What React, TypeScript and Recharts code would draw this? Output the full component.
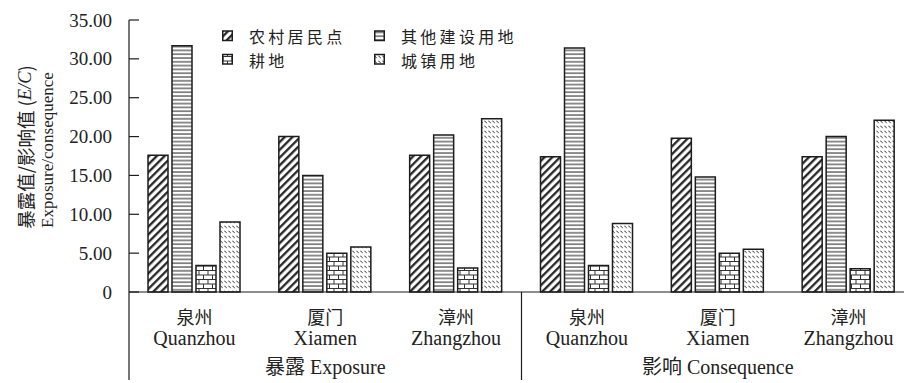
import React from 'react'
import { BarChart, Bar, XAxis, YAxis, Legend } from 'recharts'

// categories: 3 cities x 2 groups (exposure / consequence)
const categoryIds = ['qz-e', 'xm-e', 'zz-e', 'qz-c', 'xm-c', 'zz-c']
const cityZh = ['泉州', '厦门', '漳州', '泉州', '厦门', '漳州']
const cityEn = ['Quanzhou', 'Xiamen', 'Zhangzhou', 'Quanzhou', 'Xiamen', 'Zhangzhou']
const groupLabels = ['暴露 Exposure', '影响 Consequence']

// series values (E/C)
const rural = [17.6, 20.0, 17.6, 17.4, 19.8, 17.4]
const otherBuilt = [31.7, 15.0, 20.2, 31.4, 14.8, 20.0]
const farmland = [3.4, 5.0, 3.1, 3.4, 5.0, 3.0]
const urban = [9.0, 5.8, 22.3, 8.8, 5.5, 22.1]

const yTicks = [0, 5, 10, 15, 20, 25, 30, 35]

const series = [
  { key: 'rural', name: '农村居民点', fill: 'url(#pat-diag)' },
  { key: 'otherBuilt', name: '其他建设用地', fill: 'url(#pat-horiz)' },
  { key: 'farmland', name: '耕地', fill: 'url(#pat-brick)' },
  { key: 'urban', name: '城镇用地', fill: 'url(#pat-wave)' },
]

const data = categoryIds.map((id, i) => ({
  id,
  rural: rural[i],
  otherBuilt: otherBuilt[i],
  farmland: farmland[i],
  urban: urban[i],
}))

const INK = '#1c1c1c'
const SERIF = '"Liberation Serif", "Times New Roman", "Noto Sans CJK SC", serif'
const CJK = '"Noto Sans CJK SC", "Liberation Serif", serif'

const Patterns = () => (
  <defs>
    <pattern id="pat-diag" patternUnits="userSpaceOnUse" width="5.5" height="5.5" patternTransform="rotate(45)">
      <rect width="5.5" height="5.5" fill="#fff" />
      <line x1="1.2" y1="0" x2="1.2" y2="5.5" stroke={INK} strokeWidth="2.2" />
    </pattern>
    <pattern id="pat-horiz" patternUnits="userSpaceOnUse" width="4" height="3.8">
      <rect width="4" height="3.8" fill="#fff" />
      <line x1="0" y1="1" x2="4" y2="1" stroke="#333" strokeWidth="1.1" />
    </pattern>
    <pattern id="pat-brick" patternUnits="userSpaceOnUse" width="9" height="9">
      <rect width="9" height="9" fill="#fff" />
      <path d="M0 0.5 H9 M0 5 H9 M1 0.5 V5 M5.5 5 V9" stroke="#333" strokeWidth="1" fill="none" />
    </pattern>
    <pattern id="pat-wave" patternUnits="userSpaceOnUse" width="4" height="5">
      <rect width="4" height="5" fill="#fff" />
      <path d="M0.3 1.2 Q1.2 0.6 1.6 1.6 L2.6 3.2" stroke="#333" strokeWidth="0.9" fill="none" />
    </pattern>
  </defs>
)

const YTick = (props: any) => {
  const { x, y, payload } = props
  const v = payload.value
  return (
    <g>
      <line x1={x + 17} x2={x + 27} y1={y} y2={y} stroke={INK} strokeWidth={1.2} />
      <text x={x} y={y} textAnchor="end" dominantBaseline="central" fontFamily={SERIF} fontSize={19} fill="#222">
        {v === 0 ? '0' : v.toFixed(2)}
      </text>
    </g>
  )
}

const XTick = (props: any) => {
  const { x, y, payload, index } = props
  const i = typeof index === 'number' ? index : payload.index
  const half = payload.offset || 65.4
  return (
    <g>
      <text x={x} y={y + 24} textAnchor="middle" dominantBaseline="central" fontFamily={CJK} fontSize={18} fill="#222">
        {cityZh[i]}
      </text>
      <text x={x} y={y + 46} textAnchor="middle" dominantBaseline="central" fontFamily={SERIF} fontSize={20} fill="#222">
        {cityEn[i]}
      </text>
      {(i === 1 || i === 4) && (
        <text x={x} y={y + 75} textAnchor="middle" dominantBaseline="central" fontFamily={SERIF} fontSize={20} fill="#222">
          {groupLabels[i === 1 ? 0 : 1]}
        </text>
      )}
      {(i === 0 || i === 3) && (
        <line x1={x - half} x2={x - half} y1={y} y2={y + 88} stroke={INK} strokeWidth={1.2} />
      )}
    </g>
  )
}

const YLabel = () => (
  <g>
    <text transform="translate(25,147) rotate(-90)" textAnchor="middle" dominantBaseline="central" fontFamily={CJK} fontSize={18.5} fill="#222">
      暴露值/影响值 (<tspan fontFamily={SERIF} fontStyle="italic">E/C</tspan>)
    </text>
    <text transform="translate(47,150) rotate(-90)" textAnchor="middle" dominantBaseline="central" fontFamily={SERIF} fontSize={17} fill="#222">
      Exposure/consequence
    </text>
  </g>
)

// legend drawn in svg, 2 x 2 grid
const legendCols = [0, 152]
const LegendBox = () => (
  <svg width={330} height={64} style={{ overflow: 'visible' }}>
    {series.map((s, i) => {
      const lx = legendCols[i % 2]
      const ly = 16 + Math.floor(i / 2) * 23.5
      return (
        <g key={s.key}>
          <rect x={lx + 0.75} y={ly - 5} width={9.5} height={9.5} fill={s.fill} stroke={INK} strokeWidth={1.5} />
          <text x={lx + 27} y={ly} dominantBaseline="central" fontFamily={CJK} fontSize={16} letterSpacing={3.3} fill="#222">
            {s.name}
          </text>
        </g>
      )
    })}
  </svg>
)

export default function App() {
  return (
    <div style={{ position: 'fixed', left: 0, top: 0, width: 904, height: 383, overflow: 'hidden', background: '#fff' }}>
      <BarChart
        width={914}
        height={383}
        data={data}
        margin={{ top: 20, right: 0, left: 0, bottom: 0 }}
        barSize={20}
        barGap={4}
      >
        <Patterns />
        <XAxis
          dataKey="id"
          height={91}
          interval={0}
          tickLine={false}
          tickSize={0}
          tickMargin={0}
          axisLine={{ stroke: INK, strokeWidth: 1.2 }}
          tick={<XTick />}
        />
        <YAxis
          width={129}
          domain={[0, 35]}
          ticks={yTicks}
          interval={0}
          tickLine={false}
          tickSize={0}
          tickMargin={17}
          axisLine={{ stroke: INK, strokeWidth: 1.2 }}
          tick={<YTick />}
          label={{ content: () => <YLabel /> }}
        />
        <Legend
          layout="vertical"
          align="center"
          verticalAlign="middle"
          wrapperStyle={{ top: 20, left: 222, width: 330, lineHeight: 0 }}
          content={() => <LegendBox />}
        />
        {series.map((s) => (
          <Bar
            key={s.key}
            dataKey={s.key}
            name={s.name}
            fill={s.fill}
            stroke={INK}
            strokeWidth={1.5}
            isAnimationActive={false}
          />
        ))}
      </BarChart>
    </div>
  )
}
